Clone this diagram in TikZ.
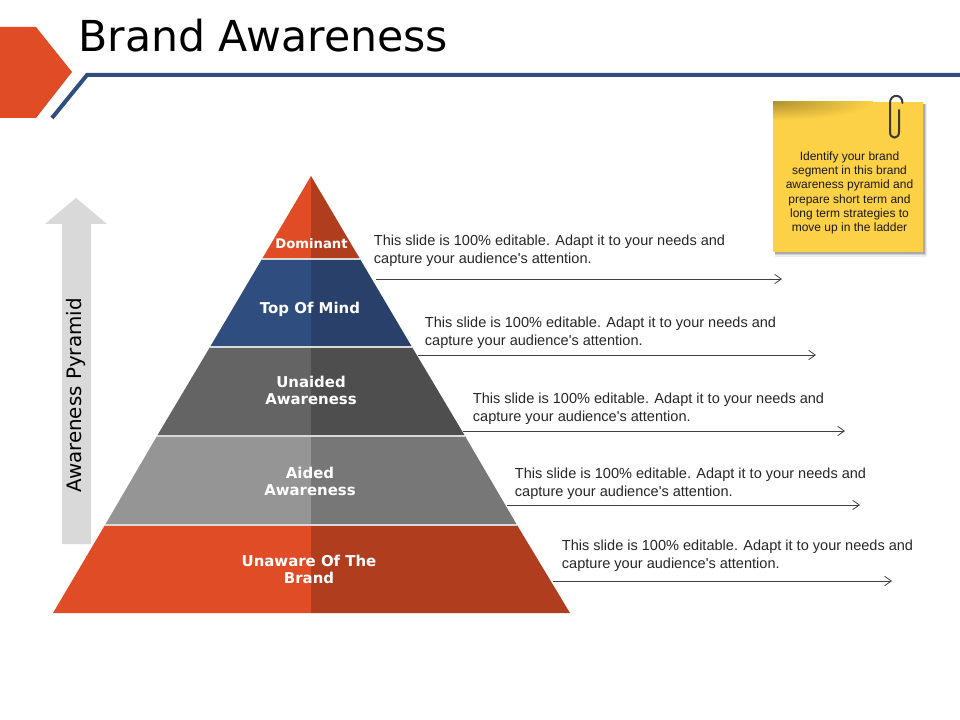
\documentclass[tikz,border=0pt]{standalone}
\usepackage{fontspec}
\setmainfont{Liberation Sans}
\newfontfamily\descfont{Liberation Sans}
\newfontfamily\dejavu{DejaVu Sans}
\usetikzlibrary{arrows.meta}
\definecolor{redL}{HTML}{E04C26}
\definecolor{redD}{HTML}{B13D1F}
\definecolor{blueL}{HTML}{2F4D7E}
\definecolor{blueD}{HTML}{28406A}
\definecolor{dgL}{HTML}{646464}
\definecolor{dgD}{HTML}{4E4E4E}
\definecolor{mgL}{HTML}{959595}
\definecolor{mgD}{HTML}{777777}
\definecolor{lineblue}{HTML}{2F4D7E}
\definecolor{note}{HTML}{FDD146}
\definecolor{clipcol}{HTML}{3C3A34}
\tikzset{
  x=0.75pt,y=-0.75pt,
  lvl/.style={font=\dejavu\bfseries\fontsize{11.2pt}{12.8pt}\selectfont,text=white,align=center,inner sep=0pt},
  desc/.style={font=\descfont\fontsize{10.9pt}{13.4pt}\selectfont,text=black!85,align=left,anchor=west,inner sep=0pt},
  leader/.style={draw=black!75,line width=0.6pt,-{Straight Barb[length=5pt,width=7pt]}},
  sep/.style={draw=white!85!black,line width=0.9pt}
}
\begin{document}
\begin{tikzpicture}
\useasboundingbox (0,0) rectangle (960,720);
% header
\fill[redL] (0,27) -- (36,27) -- (72,72) -- (36,118) -- (0,118) -- cycle;
\draw[lineblue,line width=3pt,miter limit=10] (52,118) -- (87,75) -- (960,75);
\node[anchor=west,inner sep=0pt,font=\dejavu\fontsize{32pt}{38pt}\selectfont] (title) at (78,36) {Brand Awareness};
% up arrow
\fill[black!15] (62,544) -- (62,224) -- (45,224) -- (76,198) -- (107,224) -- (91,224) -- (91,544) -- cycle;
\node[rotate=90,inner sep=0pt,font=\dejavu\fontsize{14.9pt}{17pt}\selectfont] (axis) at (76.5,395.5) {Awareness Pyramid};
% pyramid
\fill[redL] (311,176) -- (262,259) -- (311,259) -- cycle;
\fill[redD] (311,176) -- (360,259) -- (311,259) -- cycle;
\fill[blueL] (262,259) -- (210,347) -- (311,347) -- (311,259) -- cycle;
\fill[blueD] (360,259) -- (412,347) -- (311,347) -- (311,259) -- cycle;
\fill[dgL] (210,347) -- (157,436) -- (311,436) -- (311,347) -- cycle;
\fill[dgD] (412,347) -- (465,436) -- (311,436) -- (311,347) -- cycle;
\fill[mgL] (157,436) -- (105,525) -- (311,525) -- (311,436) -- cycle;
\fill[mgD] (465,436) -- (517,525) -- (311,525) -- (311,436) -- cycle;
\fill[redL] (105,525) -- (53,613) -- (311,613) -- (311,525) -- cycle;
\fill[redD] (517,525) -- (570,613) -- (311,613) -- (311,525) -- cycle;
\draw[sep] (262,259) -- (360,259);
\draw[sep] (210,347) -- (412,347);
\draw[sep] (157,436) -- (465,436);
\draw[sep] (105,525) -- (517,525);
% level labels
\node[lvl,font=\dejavu\bfseries\fontsize{9.9pt}{11pt}\selectfont] (dom) at (311.5,243.5) {Dominant};
\node[lvl] (top) at (310,309) {Top Of Mind};
\node[lvl] (una) at (311,390) {Unaided\\Awareness};
\node[lvl] (aid) at (310,481) {Aided\\Awareness};
\node[lvl] (unw) at (309,569) {Unaware Of The\\Brand};
% descriptions
\node[desc] (d1) at (373.7,250.5) {This slide is 100\% editable. Adapt it to your needs and\\capture your audience's attention.};
\node[desc] (d2) at (424.7,332.5) {This slide is 100\% editable. Adapt it to your needs and\\capture your audience's attention.};
\node[desc] (d3) at (472.7,408.5) {This slide is 100\% editable. Adapt it to your needs and\\capture your audience's attention.};
\node[desc] (d4) at (514.7,483.5) {This slide is 100\% editable. Adapt it to your needs and\\capture your audience's attention.};
\node[desc] (d5) at (561.7,555.5) {This slide is 100\% editable. Adapt it to your needs and\\capture your audience's attention.};
% leaders
\coordinate (s1) at (376,279); \coordinate (e1) at (782,279);
\coordinate (s2) at (418,355); \coordinate (e2) at (816,355);
\coordinate (s3) at (463,431); \coordinate (e3) at (845,431);
\coordinate (s4) at (507,505); \coordinate (e4) at (860,505);
\coordinate (s5) at (553,581); \coordinate (e5) at (892,581);
\draw[leader] (s1) -- (e1);
\draw[leader] (s2) -- (e2);
\draw[leader] (s3) -- (e3);
\draw[leader] (s4) -- (e4);
\draw[leader] (s5) -- (e5);
% sticky note
\fill[black,opacity=0.07] (775,104) rectangle (927,257);
\fill[black,opacity=0.12] (775,104) rectangle (926,255.5);
\fill[black,opacity=0.18] (775,104) rectangle (925,254);
\fill[note] (773,102) rectangle (923,252);
\begin{scope}
\clip (773,102) rectangle (923,252);
\shade[inner color=black!30!note,outer color=note] (773,102) ellipse (100 and 18);
\end{scope}
\draw[clipcol,line width=1.5pt,line cap=round] (899,110) -- (899,132) .. controls (899,139.5) and (890,139.5) .. (890,132) -- (890,103) .. controls (890,93.5) and (902.5,93.5) .. (902.5,103);
\node[inner sep=0pt,align=center,font=\descfont\fontsize{9pt}{10.75pt}\selectfont,text=black!90] (nt) at (849.5,192.8) {Identify your brand\\segment in this brand\\awareness pyramid and\\prepare short term and\\long term strategies to\\move up in the ladder};
\end{tikzpicture}
\end{document}
